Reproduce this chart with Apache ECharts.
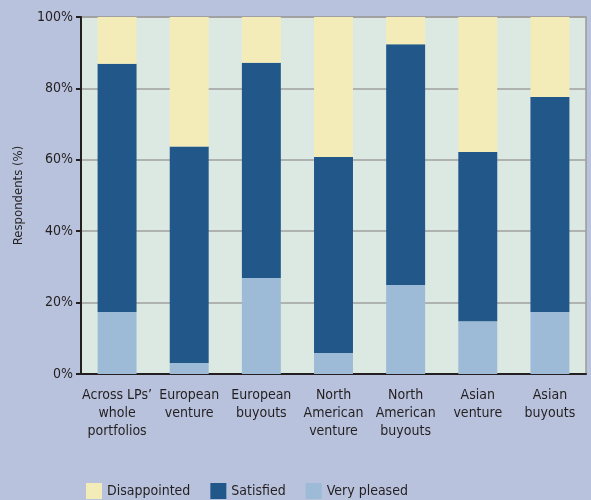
<!DOCTYPE html>
<html><head><meta charset="utf-8">
<script src="https://cdn.jsdelivr.net/npm/echarts@6/dist/echarts.min.js"></script>
<style>html,body{margin:0;padding:0;background:#b8c2dc;}#c{width:591px;height:500px;}</style>
</head><body><div id="c"></div>
<script>
const categories = ["Across LPs’\nwhole\nportfolios","European\nventure","European\nbuyouts","North\nAmerican\nventure","North\nAmerican\nbuyouts","Asian\nventure","Asian\nbuyouts"];
const veryPleased = [17.4, 3.1, 26.9, 5.9, 24.9, 14.8, 17.4];
const satisfied = [69.5, 60.6, 60.3, 54.9, 67.5, 47.4, 60.2];
const disappointed = [13.1, 36.3, 12.8, 39.2, 7.6, 37.8, 22.4];
const yTicks = [0, 20, 40, 60, 80, 100];

const FONT = '"Liberation Sans Narrow", "DejaVu Sans Condensed", sans-serif';
const chart = echarts.init(document.getElementById('c'));
chart.setOption({
  backgroundColor: '#b8c2dc',
  animation: false,
  textStyle: {fontFamily: FONT, color: '#231f20'},
  grid: {left: 81, right: 5, top: 17, bottom: 126, show: true, backgroundColor: '#dce9e3', borderColor: '#9a9a9a', borderWidth: 1.5},
  legend: {
    data: ['Disappointed','Satisfied','Very pleased'],
    left: 81, top: 478, itemWidth: 16, itemHeight: 16, itemGap: 20,
    icon: 'rect',
    textStyle: {fontFamily: FONT, fontSize: 14, color: '#231f20'}
  },
  xAxis: {
    type: 'category', data: categories,
    axisLine: {lineStyle: {color: '#231f20', width: 2}},
    axisTick: {length: 5, lineStyle: {color: '#231f20', width: 2}},
    axisLabel: {fontSize: 14, lineHeight: 18, margin: 12, color: '#231f20', fontFamily: FONT, interval: 0}
  },
  yAxis: {
    type: 'value', min: yTicks[0], max: yTicks[yTicks.length-1], interval: 20,
    name: 'Respondents (%)', nameLocation: 'middle', nameGap: 56, nameRotate: 90,
    nameTextStyle: {fontSize: 13, color: '#231f20', fontFamily: FONT},
    axisLine: {show: true, lineStyle: {color: '#231f20', width: 2}},
    axisTick: {show: true, length: 5, lineStyle: {color: '#231f20', width: 2}},
    axisLabel: {fontSize: 14, color: '#231f20', fontFamily: FONT, margin: 8, formatter: '{value}%'},
    splitLine: {lineStyle: {color: '#9f9f9f', width: 1.5}}
  },
  series: [
    {name: 'Very pleased', type: 'bar', stack: 's', data: veryPleased, barWidth: '54%', itemStyle: {color: '#9dbad6'}},
    {name: 'Satisfied', type: 'bar', stack: 's', data: satisfied, itemStyle: {color: '#22578a'}},
    {name: 'Disappointed', type: 'bar', stack: 's', data: disappointed, itemStyle: {color: '#f3ecb8'}}
  ]
});
</script></body></html>
